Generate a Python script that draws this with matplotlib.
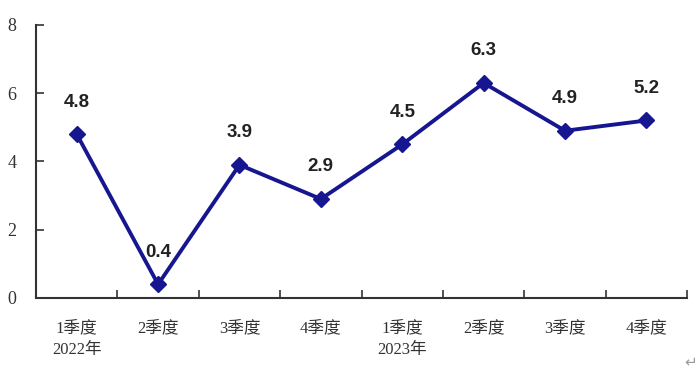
import matplotlib.pyplot as plt
from matplotlib import font_manager

quarters = ['1季度\n2022年', '2季度', '3季度', '4季度',
            '1季度\n2023年', '2季度', '3季度', '4季度']
growth = [4.8, 0.4, 3.9, 2.9, 4.5, 6.3, 4.9, 5.2]
y_ticks = [0, 2, 4, 6, 8]

names = {f.name for f in font_manager.fontManager.ttflist}
label_font = 'Liberation Sans Narrow' if 'Liberation Sans Narrow' in names else 'Liberation Sans'
tick_fonts = ['Liberation Serif', 'Noto Sans CJK SC']

navy = '#161690'

fig = plt.figure(figsize=(6.99, 3.72), dpi=100)
ax = fig.add_axes([0.0515, 0.199, 0.9315, 0.734])

x = list(range(len(growth)))
ax.plot(x, growth, color=navy, lw=2.8, marker='D', ms=8,
        markerfacecolor=navy, markeredgecolor=navy)

for xi, v in zip(x, growth):
    ax.annotate(f'{v:.1f}', (xi, v), xytext=(0, 17), textcoords='offset points',
                ha='center', va='bottom', fontsize=13.5, fontweight='bold',
                family=label_font, color='#222222')

ax.set_xlim(-0.5, len(growth) - 0.5)
ax.set_ylim(0, 8)
ax.set_yticks(y_ticks)
ax.set_yticklabels([str(t) for t in y_ticks], family=tick_fonts, fontsize=13, color='#333333')

# category ticks sit on the boundaries, labels centred under each point
ax.set_xticks([i - 0.5 for i in range(len(growth) + 1)])
ax.set_xticklabels([])
ax.set_xticks(x, minor=True)
ax.set_xticklabels(quarters, minor=True, family=tick_fonts, fontsize=12,
                   color='#333333', linespacing=1.45)
ax.tick_params(axis='x', which='minor', length=0, pad=16)
ax.tick_params(axis='x', which='major', direction='in', length=6, width=1.2, color='#333333')
ax.tick_params(axis='y', direction='in', length=6, width=1.2, color='#333333', pad=14)

for side in ['top', 'right']:
    ax.spines[side].set_visible(False)
for side in ['left', 'bottom']:
    ax.spines[side].set_linewidth(1.5)
    ax.spines[side].set_color('#333333')

fig.text(0.988, 0.028, '↵', family='DejaVu Sans', fontsize=11, color='#999999',
         ha='center', va='center')

fig.savefig('out.png', dpi=100)
